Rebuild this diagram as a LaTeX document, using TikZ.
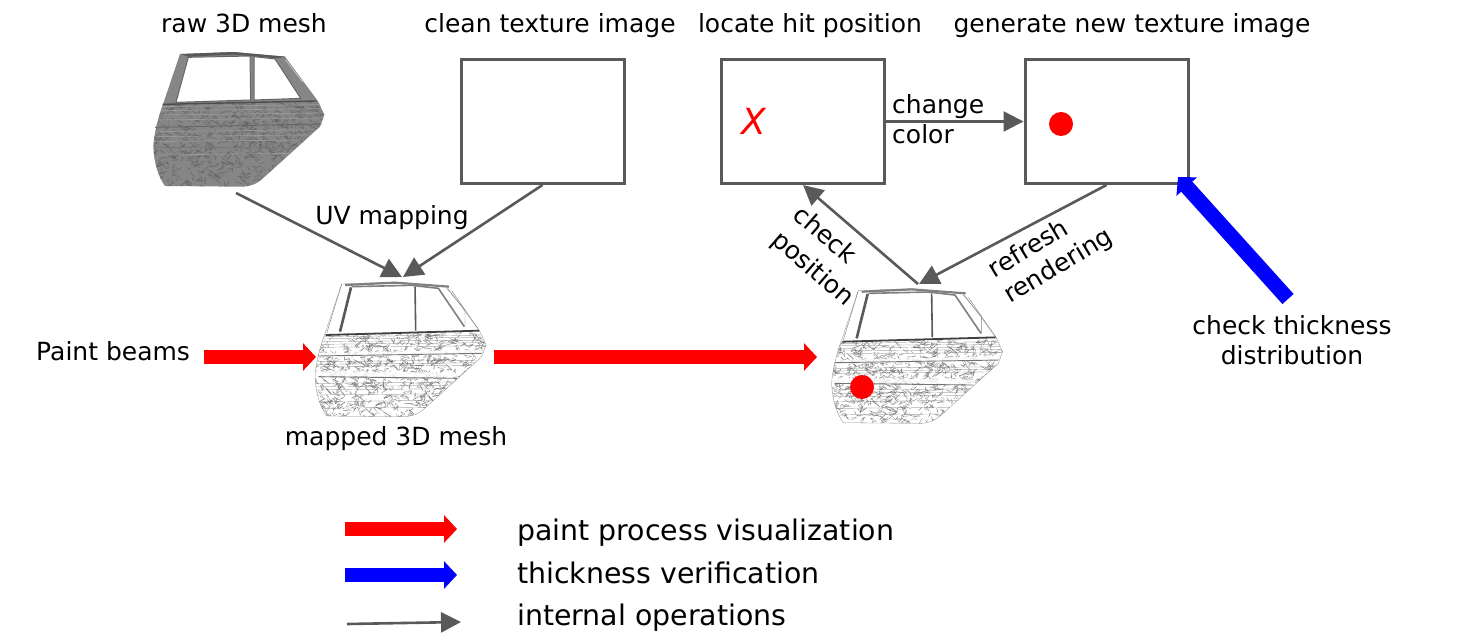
\documentclass[tikz,border=0pt]{standalone}
\usepackage{fontspec}
\setmainfont{DejaVu Sans}
\usetikzlibrary{arrows.meta}
\definecolor{opgray}{HTML}{595959}
\definecolor{beamred}{HTML}{FF0000}
\tikzset{
  boxnode/.style={draw=opgray,line width=3pt,minimum width=163pt,minimum height=124pt,inner sep=0pt,fill=white},
  oparrow/.style={draw=opgray,line width=2.6pt,-{Triangle[length=20pt,width=20pt]}},
  beam/.style={line width=14pt,-{Triangle[length=13pt,width=27pt]},line join=round},
  lab/.style={font=\fontsize{25}{30}\selectfont,inner sep=0pt,text=black},
  toplab/.style={lab,anchor=base},
  leglab/.style={font=\fontsize{28.4}{32}\selectfont,inner sep=0pt,anchor=base west,text=black},
  hitdot/.style={circle,fill=beamred,minimum size=24pt,inner sep=0pt},
}
% door, drawn in 3x zoomed pixel units
\def\outerpath{(120,42) -- (280,36) -- (435,50) -- (535,185) -- (553,225) -- (540,260) -- (380,405) .. controls (355,428) and (345,436) .. (310,440) -- (75,438) .. controls (55,410) and (42,370) .. (40,320) .. controls (42,280) and (55,230) .. (70,190) -- cycle}
\def\lowerpath{(70,192) -- (530,185) -- (553,225) -- (540,260) -- (380,405) .. controls (355,428) and (345,436) .. (310,440) -- (75,438) .. controls (55,410) and (42,370) .. (40,320) .. controls (42,280) and (55,230) .. (70,192) -- cycle}
\newcommand{\meshlines}[4]{% count, colour, seed, width
  \pgfmathsetseed{#3}
  \foreach \i in {1,...,#1}{
    \pgfmathsetmacro{\xa}{30+rnd*530}
    \pgfmathsetmacro{\ya}{190+rnd*250}
    \pgfmathsetmacro{\xb}{\xa+(rnd-0.5)*32}
    \pgfmathsetmacro{\yb}{\ya+(rnd-0.5)*24}
    \pgfmathsetmacro{\xc}{\xb+(rnd-0.5)*32}
    \pgfmathsetmacro{\yc}{\yb+(rnd-0.5)*24}
    \draw[#2,line width=#4] (\xa,\ya) -- (\xb,\yb) -- (\xc,\yc) -- cycle;
  }
}
\newcommand{\darkdoor}[2]{%
  \begin{scope}[shift={(#1,#2)},scale=1/3]
    \fill[gray!95] \outerpath;
    \begin{scope}
      \clip \lowerpath;
      \meshlines{650}{black!62}{11}{0.2pt}
      \foreach \y in {200,212,225,240,275,290,305,345} \draw[gray!80,line width=0.7pt] (40,\y) -- (560,\y-6);
    \end{scope}
    \draw[black!60,line width=0.9pt] (45,262) -- (545,252);
    \draw[black!55,line width=0.7pt] (42,322) -- (465,325);
    \draw[black!70,line width=1.4pt] (68,193) -- (530,183);
    \fill[gray!70!black] (122,42) -- (280,36) -- (437,50) -- (410,55) -- (280,44) -- (145,50) -- cycle;
    \fill[white] (145,52) -- (330,48) -- (332,180) -- (108,187) -- cycle;
    \fill[white] (342,50) -- (405,57) -- (482,175) -- (342,180) -- cycle;
    \draw[black!60,line width=1pt] (145,52) -- (330,48) -- (332,180) -- (108,187) -- cycle;
    \draw[black!60,line width=1pt] (342,50) -- (405,57) -- (482,175) -- (342,180) -- cycle;
    \draw[gray!30,line width=0.5pt] (437,60) -- (487,125);
  \end{scope}}
\newcommand{\lightdoor}[3]{%
  \begin{scope}[shift={(#1,#2)},scale=1/3]
    \fill[white] \outerpath;
    \begin{scope}
      \clip \lowerpath;
      \meshlines{800}{black!55}{#3}{0.15pt}
      \foreach \y in {200,207,215,223,232,275,283,290,340,350,360,375,395,415} \draw[black!60,line width=0.2pt] (40,\y) -- (560,\y-5);
      \fill[white,opacity=.8] (40,262) -- (550,250) -- (550,238) -- (40,250) -- cycle;
      \fill[white,opacity=.8] (40,318) -- (470,322) -- (470,308) -- (40,304) -- cycle;
    \end{scope}
    \draw[black!45,line width=0.3pt] \outerpath;
    \draw[black!55,line width=0.9pt] (50,258) -- (540,250);
    \draw[black!55,line width=0.9pt] (50,320) -- (465,325);
    \draw[black!75,line width=1.8pt] (72,195) -- (532,182);
    \draw[gray,line width=2.2pt] (130,45) -- (280,38) -- (442,50);
    \draw[black!65,line width=2.6pt] (148,52) -- (115,185);
    \draw[gray,line width=1.6pt] (150,50) -- (330,46) -- (410,55) -- (488,170);
    \draw[gray!70!black,line width=1.6pt] (340,50) -- (342,182);
    \draw[black!50,line width=0.4pt] (435,55) -- (490,120) -- (490,170);
    \draw[black!50,line width=0.4pt] (450,62) -- (535,185);
    \draw[black!50,line width=0.4pt] (120,42) -- (75,190);
  \end{scope}}
\begin{document}
\begin{tikzpicture}[x=1pt,y=-1pt]
\useasboundingbox (0,0) rectangle (1479,636);
% meshes
\darkdoor{140}{40}
\lightdoor{301.7}{270}{23}
\lightdoor{818.3}{276.7}{37}
% boxes
\node[boxnode] (clean) at (542.5,121.5) {};
\node[boxnode] (hit) at (803,121.5) {};
\node[boxnode] (fresh) at (1106.5,121.5) {};
\node[text=beamred,font=\fontsize{36}{40}\selectfont\itshape,inner sep=0pt] (xmark) at (754,121) {X};
\node[hitdot] (dotnew) at (1061,124) {};
% anchor points of the meshes
\coordinate (rawfoot) at (236,193);
\coordinate (maptop) at (402,277);
\coordinate (maptopb) at (403,277);
\coordinate (hittop) at (918,284);
\coordinate (hittopb) at (919,284);
% connectors
\draw[oparrow] (rawfoot) -- (maptop);
\draw[oparrow] (clean.south) -- (maptopb);
\draw[oparrow] (hit.east) -- (fresh.west);
\draw[oparrow] (hittop) -- (hit.south);
\draw[oparrow] (fresh.south) -- (hittopb);
% beams
\coordinate (beamstart) at (204,357);
\coordinate (mapleft) at (316,357);
\coordinate (mapright) at (494,357);
\coordinate (hitleft) at (817,357);
\draw[beam,draw=beamred,fill=beamred] (beamstart) -- (mapleft);
\draw[beam,draw=beamred,fill=beamred] (mapright) -- (hitleft);
\coordinate (thickstart) at (1288,299);
\coordinate (thickend) at (1178,177);
\draw[beam,line width=15pt,draw=blue,fill=blue] (thickstart) -- (thickend);
\node[hitdot] (dothit) at (862,387) {};
% labels
\node[toplab] (l1) at (244,33) {raw 3D mesh};
\node[toplab] (l2) at (550,33) {clean texture image};
\node[toplab] (l3) at (810,33) {locate hit position};
\node[toplab] (l4) at (1132,33) {generate new texture image};
\node[lab] (l5) at (392,218) {UV mapping};
\node[lab,align=left,anchor=west] (l6) at (892,119.500) {change\\color};
\node[lab,align=left,rotate=-41] (l7) at (823,257) {check\\[3pt]position};
\node[lab,align=left,rotate=31] (l8) at (1051,254) {refresh\\rendering};
\node[lab,anchor=west] (l9) at (36,351) {Paint beams};
\node[lab] (l10) at (396,439) {mapped 3D mesh};
\node[lab,align=center] (l11) at (1292,340) {check thickness\\distribution};
% legend
\coordinate (lr1) at (345,529);
\coordinate (lr2) at (457,529);
\coordinate (lb1) at (345,575);
\coordinate (lb2) at (457,575);
\coordinate (lg1) at (347,624);
\coordinate (lg2) at (461,622);
\draw[beam,draw=beamred,fill=beamred] (lr1) -- (lr2);
\draw[beam,draw=blue,fill=blue] (lb1) -- (lb2);
\draw[oparrow] (lg1) -- (lg2);
\node[leglab] (t1) at (517,540) {paint process visualization};
\node[leglab] (t2) at (517,583) {thickness verification};
\node[leglab] (t3) at (517,625) {internal operations};
\end{tikzpicture}
\end{document}
